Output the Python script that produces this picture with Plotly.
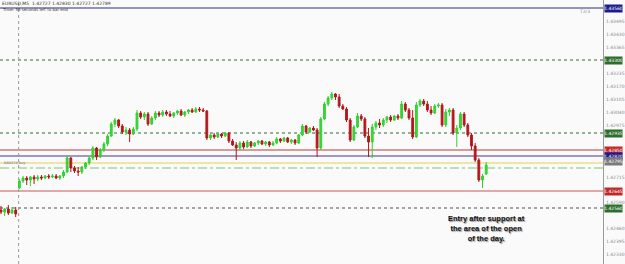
import plotly.graph_objects as go

# ---- data (EURUSD M5 candles) ----
opens = [1.42550,1.42540,1.42555,1.42535,1.42550,1.42660,1.42695,1.42710,1.42700,1.42715,
         1.42705,1.42715,1.42710,1.42720,1.42715,1.42720,1.42710,1.42720,1.42740,1.42810,
         1.42760,1.42745,1.42740,1.42765,1.42785,1.42810,1.42860,1.42815,1.42850,1.42880,
         1.42920,1.42980,1.43000,1.42970,1.42940,1.42950,1.42930,1.42955,1.43035,1.43015,
         1.43030,1.42980,1.43010,1.43035,1.43025,1.43040,1.43030,1.43020,1.43035,1.43045,
         1.43025,1.43040,1.43050,1.43040,1.43055,1.43050,1.43045,1.42910,1.42925,1.42915,
         1.42930,1.42920,1.42935,1.42895,1.42875,1.42860,1.42885,1.42865,1.42890,1.42870,
         1.42885,1.42895,1.42880,1.42890,1.42875,1.42885,1.42905,1.42895,1.42910,1.42890,
         1.42900,1.42885,1.42925,1.42970,1.42940,1.42960,1.42950,1.42860,1.43005,1.43080,
         1.43110,1.43130,1.43115,1.43070,1.43055,1.43000,1.42900,1.42965,1.43020,1.43005,
         1.42920,1.42890,1.42965,1.42985,1.42975,1.43000,1.43015,1.43000,1.43020,1.43010,
         1.43080,1.43050,1.43010,1.42915,1.43075,1.43095,1.43080,1.43050,1.43035,1.43070,
         1.43075,1.42975,1.43040,1.43050,1.42935,1.42960,1.43030,1.42975,1.42925,1.42870,
         1.42800,1.42700,1.42730]
highs = [1.42570,1.42560,1.42575,1.42565,1.42565,1.42705,1.42720,1.42720,1.42720,1.42725,
         1.42725,1.42725,1.42725,1.42730,1.42730,1.42730,1.42725,1.42750,1.42820,1.42815,
         1.42770,1.42765,1.42770,1.42790,1.42815,1.42870,1.42865,1.42860,1.42890,1.42930,
         1.42990,1.43010,1.43005,1.42980,1.42965,1.42960,1.42965,1.43050,1.43045,1.43040,
         1.43040,1.43020,1.43045,1.43045,1.43050,1.43050,1.43045,1.43040,1.43050,1.43055,
         1.43045,1.43055,1.43060,1.43065,1.43065,1.43060,1.43050,1.42930,1.42935,1.42935,
         1.42935,1.42940,1.42940,1.42905,1.42890,1.42895,1.42895,1.42900,1.42895,1.42890,
         1.42900,1.42900,1.42895,1.42895,1.42895,1.42915,1.42910,1.42915,1.42915,1.42905,
         1.42905,1.42930,1.42980,1.42975,1.42965,1.42970,1.42960,1.43015,1.43090,1.43120,
         1.43140,1.43135,1.43130,1.43080,1.43065,1.43010,1.42975,1.43035,1.43030,1.43015,
         1.42960,1.42980,1.42995,1.43005,1.43010,1.43020,1.43025,1.43025,1.43030,1.43095,
         1.43090,1.43060,1.43050,1.43090,1.43105,1.43105,1.43095,1.43070,1.43080,1.43085,
         1.43085,1.43055,1.43060,1.43060,1.42975,1.43040,1.43040,1.42985,1.42935,1.42885,
         1.42810,1.42730,1.42790]
lows = [1.42530,1.42520,1.42525,1.42530,1.42515,1.42655,1.42685,1.42675,1.42670,1.42680,
        1.42695,1.42700,1.42705,1.42705,1.42710,1.42705,1.42700,1.42710,1.42735,1.42740,
        1.42735,1.42720,1.42730,1.42755,1.42775,1.42800,1.42800,1.42810,1.42840,1.42870,
        1.42915,1.42965,1.42960,1.42930,1.42925,1.42890,1.42925,1.42945,1.43005,1.43000,
        1.42970,1.42975,1.43000,1.43015,1.43015,1.43020,1.43015,1.43010,1.43025,1.43020,
        1.43015,1.43030,1.43035,1.43035,1.43040,1.43040,1.42900,1.42900,1.42905,1.42910,
        1.42910,1.42915,1.42885,1.42870,1.42800,1.42850,1.42855,1.42860,1.42860,1.42865,
        1.42875,1.42875,1.42870,1.42865,1.42870,1.42880,1.42885,1.42890,1.42885,1.42880,
        1.42875,1.42880,1.42920,1.42930,1.42935,1.42945,1.42815,1.42850,1.43000,1.43070,
        1.43100,1.43100,1.43060,1.43050,1.42990,1.42890,1.42895,1.42960,1.42995,1.42910,
        1.42815,1.42810,1.42950,1.42960,1.42965,1.42985,1.42990,1.42995,1.43000,1.43005,
        1.43040,1.43000,1.42905,1.42910,1.43065,1.43070,1.43040,1.43025,1.43030,1.43060,
        1.42965,1.42965,1.43020,1.42925,1.42865,1.42950,1.42965,1.42915,1.42850,1.42790,
        1.42690,1.42660,1.42725]
closes = [1.42540,1.42555,1.42535,1.42550,1.42530,1.42695,1.42710,1.42700,1.42715,1.42705,
          1.42715,1.42710,1.42720,1.42715,1.42720,1.42710,1.42720,1.42740,1.42810,1.42760,
          1.42745,1.42740,1.42765,1.42785,1.42810,1.42860,1.42815,1.42850,1.42880,1.42920,
          1.42980,1.43000,1.42970,1.42940,1.42950,1.42930,1.42955,1.43035,1.43015,1.43030,
          1.42980,1.43010,1.43035,1.43025,1.43040,1.43030,1.43020,1.43035,1.43045,1.43025,
          1.43040,1.43050,1.43040,1.43055,1.43050,1.43045,1.42910,1.42925,1.42915,1.42930,
          1.42920,1.42935,1.42895,1.42875,1.42860,1.42885,1.42865,1.42890,1.42870,1.42885,
          1.42895,1.42880,1.42890,1.42875,1.42885,1.42905,1.42895,1.42910,1.42890,1.42900,
          1.42885,1.42925,1.42970,1.42940,1.42960,1.42950,1.42860,1.43005,1.43080,1.43110,
          1.43130,1.43115,1.43070,1.43055,1.43000,1.42900,1.42965,1.43020,1.43005,1.42920,
          1.42890,1.42965,1.42985,1.42975,1.43000,1.43015,1.43000,1.43020,1.43010,1.43080,
          1.43050,1.43010,1.42915,1.43075,1.43095,1.43080,1.43050,1.43035,1.43070,1.43075,
          1.42975,1.43040,1.43050,1.42935,1.42960,1.43030,1.42975,1.42925,1.42870,1.42800,
          1.42700,1.42720,1.42775]
bar_index = list(range(len(opens)))

# horizontal levels: price, line colour, dash, width, box colour (None = no box)
level_prices = [1.43560, 1.43300, 1.42935, 1.42850, 1.42820, 1.42785, 1.42760, 1.42645, 1.42560]
level_colors = ["#2a2a80", "#2f6b2f", "#2f6b2f", "#d07a7a", "#3a3a8c", "#f3e3a6", "#7cc27c", "#d88c8c", "#3f5f3f"]
level_dashes = ["solid", "dot", "dot", "solid", "solid", "solid", "dashdot", "solid", "dot"]
level_widths = [1.2, 1, 1, 1.5, 1.2, 2, 1, 1.5, 1]
level_boxes = ["#1c1c8c", "#2d6e2d", "#2d6e2d", "#c0282c", "#1c1c8c", None, None, "#c0282c", "#2d6e2d"]

bid_price = 1.42795
tick_values = [1.43495, 1.43430, 1.43365, 1.43235, 1.43170, 1.43105, 1.43040, 1.42975,
               1.42715, 1.42590, 1.42460, 1.42395, 1.42330]
day_break = 4.8

header_line1 = "EURUSD,M5  1.42727 1.42830 1.42727 1.42789"
header_line2 = "Time: 55 seconds left to bar end"
note_text = "Entry after support at<br>the area of the open<br>of the day."

fig = go.Figure()
fig.add_trace(go.Candlestick(
    x=bar_index, open=opens, high=highs, low=lows, close=closes,
    increasing=dict(line=dict(color="#2fd12f", width=1), fillcolor="#3ad83a"),
    decreasing=dict(line=dict(color="#b5161b", width=1), fillcolor="#b5161b"),
    whiskerwidth=0, showlegend=False, hoverinfo="skip"))

shapes = []
for p, c, d, w in zip(level_prices, level_colors, level_dashes, level_widths):
    shapes.append(dict(type="line", xref="paper", x0=0, x1=1, yref="y", y0=p, y1=p,
                       line=dict(color=c, dash=d, width=w), layer="below"))
shapes.append(dict(type="line", xref="x", x0=day_break, x1=day_break, yref="paper", y0=0, y1=1,
                   line=dict(color="#9a9a9a", dash="dot", width=1), layer="below"))
fig.update_layout(shapes=shapes)

ann = []
for p, b in zip(level_prices, level_boxes):
    if b is None:
        continue
    ann.append(dict(xref="paper", x=1.0, xanchor="left", yref="y", y=p, yanchor="middle",
                    text=f"{p:.5f}", showarrow=False, bgcolor=b, width=17, height=7,
                    font=dict(size=4.5, color="white", family="DejaVu Sans"), borderpad=0, xshift=1))
ann.append(dict(xref="paper", x=1.0, xanchor="left", yref="y", y=bid_price, yanchor="middle",
                text=f"{bid_price:.5f}", showarrow=False, bgcolor="#7a7a7a", width=17, height=7,
                font=dict(size=4.5, color="white", family="DejaVu Sans"), borderpad=0, xshift=1))
ann.append(dict(xref="paper", x=0.0, xanchor="left", yref="paper", y=1.0, yanchor="top", yshift=1,
                text=header_line1, showarrow=False,
                font=dict(size=4.5, color="#333333", family="DejaVu Sans")))
ann.append(dict(xref="paper", x=0.0, xanchor="left", yref="paper", y=1.0, yanchor="top", yshift=-5,
                text=header_line2, showarrow=False,
                font=dict(size=4, color="#333333", family="DejaVu Sans")))
ann.append(dict(xref="paper", x=0.982, xanchor="right", yref="paper", y=0.955, yanchor="middle",
                text="T2/3", showarrow=False, font=dict(size=4.5, color="#8a8a8a", family="DejaVu Sans")))
ann.append(dict(xref="x", x=0.2, xanchor="left", yref="y", y=1.42785, yanchor="middle",
                text="BB0029 buy", showarrow=False, font=dict(size=3.5, color="#777777", family="DejaVu Sans")))
ann.append(dict(xref="paper", x=0.807, xanchor="center", yref="paper", y=0.135, yanchor="middle",
                text="<b>" + note_text + "</b>", showarrow=False, align="center",
                font=dict(size=7.5, color="#111111", family="Liberation Sans Narrow, Arial Narrow, Liberation Sans",
                          shadow="1px 1px 1px #8a8a8a")))
fig.update_layout(annotations=ann)

fig.update_layout(
    width=625, height=264,
    margin=dict(l=0, r=17, t=0, b=0),
    paper_bgcolor="#fafafa", plot_bgcolor="#fafafa",
    xaxis=dict(range=[-0.27, 163.78], visible=False, rangeslider=dict(visible=False), fixedrange=True),
    yaxis=dict(range=[1.42280, 1.43600], side="right", showgrid=False, zeroline=False,
               showline=True, linecolor="#9a9a9a", linewidth=1, ticks="",
               tickvals=tick_values, ticktext=[f"{v:.5f}" for v in tick_values],
               tickfont=dict(size=4.5, color="#8a8a8a", family="DejaVu Sans"), ticklabelstandoff=1),
)

fig.write_html("out.html")
